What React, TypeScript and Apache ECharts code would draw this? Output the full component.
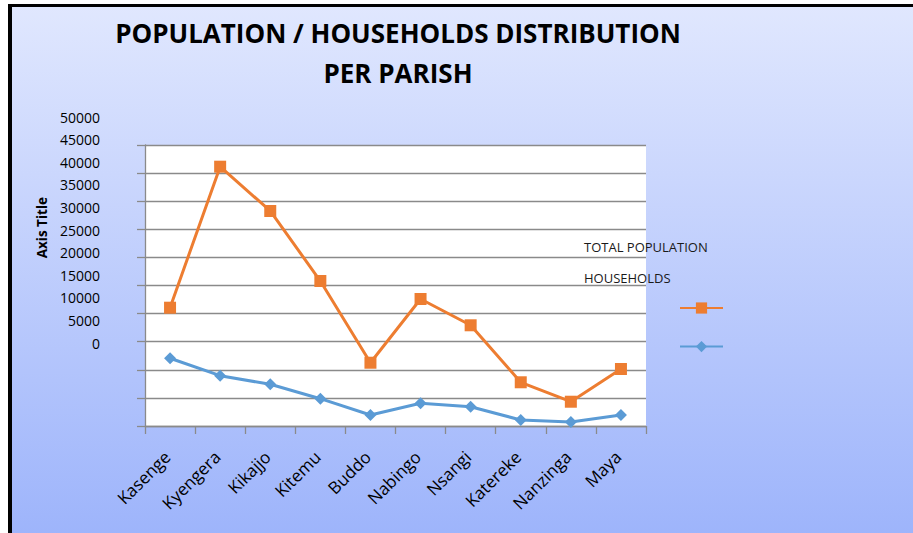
import React, { useEffect, useRef } from "react";
import * as echarts from "echarts";

const categories = ["Kasenge", "Kyengera", "Kikajjo", "Kitemu", "Buddo", "Nabingo", "Nsangi", "Katereke", "Nanzinga", "Maya"];
const totalPopulation = [21050, 46140, 38260, 25800, 11260, 22600, 17920, 7780, 4320, 10140];
const households = [12050, 8950, 7420, 4860, 1960, 4040, 3430, 1070, 710, 1960];
const tickLabels = [0, 5000, 10000, 15000, 20000, 25000, 30000, 35000, 40000, 45000, 50000];

const ORANGE = "#ED7D31";
const BLUE = "#5B9BD5";
const GRID = "#8a8a8a";
const FONT = "'Open Sans', 'DejaVu Sans', sans-serif";
const TITLE_FONT = "'Open Sans', 'DejaVu Sans', sans-serif";

export default function App() {
  const ref = useRef<HTMLDivElement>(null);
  useEffect(() => {
    if (!ref.current) return;
    const chart = echarts.init(ref.current, null, { renderer: "svg" });
    chart.setOption({
      animation: false,
      backgroundColor: "#ffffff",
      graphic: [
        { type: "rect", z: -10, silent: true, shape: { x: 8, y: 4, width: 920, height: 540 }, style: { fill: "#000000" } },
        {
          type: "rect", z: -9, silent: true,
          shape: { x: 12, y: 7, width: 920, height: 540 },
          style: {
            fill: new echarts.graphic.LinearGradient(0, 0, 0, 1, [
              { offset: 0, color: "#e0e7fe" },
              { offset: 1, color: "#9cb3fb" },
            ]),
          },
        },
        {
          type: "text", left: 35, top: 197, rotation: Math.PI / 2, silent: true,
          style: { text: "Axis Title", fill: "#000", font: `bold 13.5px ${FONT}` },
        },
      ],
      title: [
        {
          text: "POPULATION / HOUSEHOLDS DISTRIBUTION", left: 393, top: 15, textAlign: "center",
          textStyle: { fontFamily: TITLE_FONT, fontWeight: "bold", fontSize: 26, color: "#000" },
        },
        {
          text: "PER PARISH", left: 393, top: 55, textAlign: "center",
          textStyle: { fontFamily: TITLE_FONT, fontWeight: "bold", fontSize: 26, color: "#000" },
        },
      ],
      legend: [
        {
          data: ["TOTAL POPULATION", "HOUSEHOLDS"], orient: "vertical", left: 574, top: 235,
          icon: "none", itemWidth: 0, itemHeight: 14, itemGap: 17, selectedMode: false,
          textStyle: { fontFamily: FONT, fontSize: 13, color: "#1a1a1a" },
        },
        {
          data: ["TOTAL POPULATION", "HOUSEHOLDS"], orient: "vertical", left: 674, top: 296,
          itemWidth: 43, itemHeight: 14, itemGap: 26, selectedMode: false, formatter: () => "",
          textStyle: { fontSize: 1 },
        },
      ],
      grid: [
        { left: 145, right: 267, top: 145, bottom: 107, show: true, backgroundColor: "#ffffff", borderWidth: 0 },
        { left: 145, right: 267, top: 117, bottom: 190, show: false },
      ],
      xAxis: [
        {
          type: "category", data: categories, gridIndex: 0, boundaryGap: true,
          axisLine: { show: true, lineStyle: { color: GRID, width: 1.3 } },
          axisTick: { show: true, length: 8, alignWithLabel: false, lineStyle: { color: GRID, width: 1.3 } },
          axisLabel: { rotate: 45, margin: 25, padding: [0, 4, 0, 0], fontFamily: FONT, fontSize: 17, color: "#000", interval: 0 },
        },
        { type: "category", data: categories, gridIndex: 1, show: false },
      ],
      yAxis: [
        {
          type: "value", gridIndex: 0, min: 0, max: 50000, interval: 5000,
          axisLine: { show: true, lineStyle: { color: GRID, width: 1.3 } },
          axisTick: { show: true, length: 8, lineStyle: { color: GRID, width: 1.3 } },
          axisLabel: { show: false },
          splitLine: { show: true, lineStyle: { color: GRID, width: 1.3 } },
        },
        {
          type: "value", gridIndex: 1, min: tickLabels[0], max: tickLabels[tickLabels.length - 1], interval: 5000,
          axisLine: { show: false }, axisTick: { show: false }, splitLine: { show: false },
          axisLabel: { margin: 45, fontFamily: FONT, fontSize: 14, color: "#000", formatter: (v: number) => String(v) },
        },
      ],
      series: [
        {
          name: "TOTAL POPULATION", type: "line", xAxisIndex: 0, yAxisIndex: 0, data: totalPopulation,
          symbol: "rect", symbolSize: 12, showAllSymbol: true,
          lineStyle: { color: ORANGE, width: 3 }, itemStyle: { color: ORANGE },
        },
        {
          name: "HOUSEHOLDS", type: "line", xAxisIndex: 0, yAxisIndex: 0, data: households,
          symbol: "diamond", symbolSize: 12, showAllSymbol: true,
          lineStyle: { color: BLUE, width: 3 }, itemStyle: { color: BLUE },
        },
      ],
    });
    return () => chart.dispose();
  }, []);
  return <div ref={ref} style={{ position: "absolute", left: 0, top: 0, width: 913, height: 533 }} />;
}
